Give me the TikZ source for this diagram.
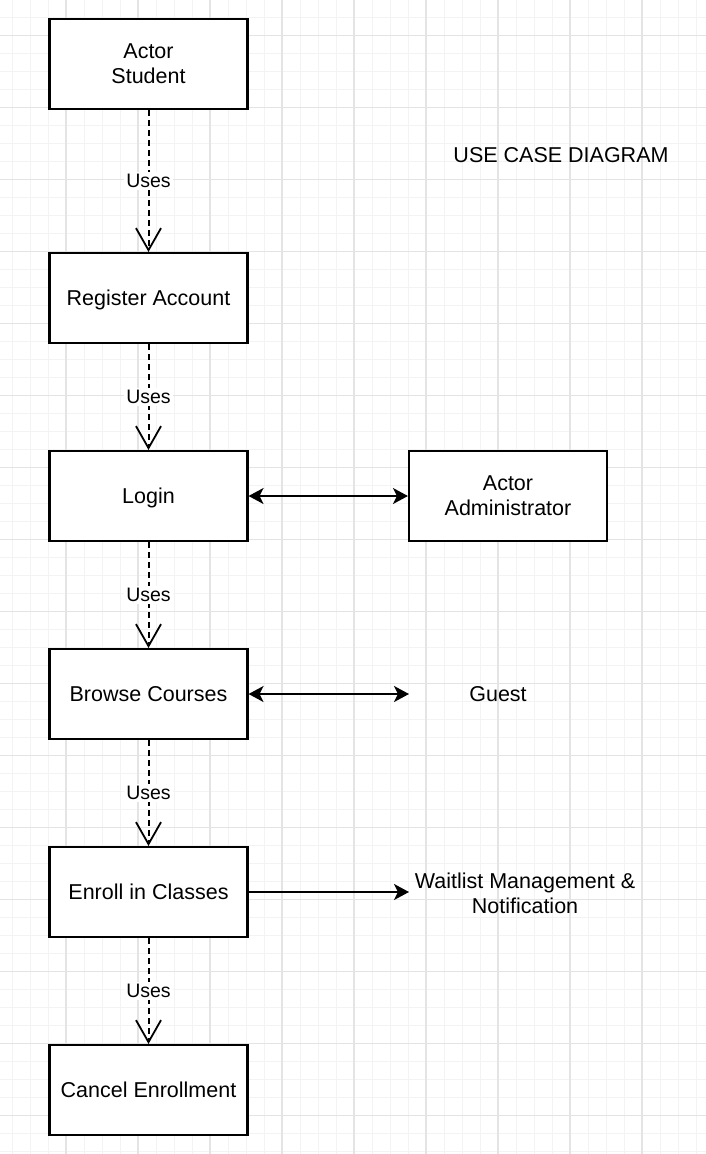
\documentclass[tikz,border=0pt]{standalone}
\usepackage{fontspec}
\setmainfont{Liberation Sans}
\usetikzlibrary{arrows.meta}
\begin{document}
\begin{tikzpicture}[x=1pt,y=-1pt,
  every node/.style={font=\fontsize{21.5}{25}\selectfont},
  box/.style={draw=black,line width=2.1pt,fill=white,minimum width=198pt,minimum height=90pt,align=center,inner sep=2pt,text depth=0pt},
  txt/.style={align=center,inner sep=1pt},
  uses/.style={draw=black,line width=2pt,dash pattern=on 6pt off 4pt,-{Straight Barb[length=22pt,width=25pt,line width=1.8pt]}},
  uselbl/.style={fill=white,inner sep=2pt,font=\fontsize{19.5}{22}\selectfont},
  dbl/.style={draw=black,line width=2pt,{Stealth[length=15pt,width=16pt,inset=4pt]}-{Stealth[length=15pt,width=16pt,inset=4pt]}},
  sgl/.style={draw=black,line width=2pt,-{Stealth[length=15pt,width=16pt,inset=4pt]}},
  minorgrid/.style={draw={rgb,255:red,243;green,243;blue,243},line width=1pt},
  majorgrid/.style={draw={rgb,255:red,228;green,228;blue,228},line width=1.2pt}]
\useasboundingbox[fill=white] (0,0) rectangle (706,1154);
% grid
\foreach \i in {0,...,38} {\draw[minorgrid] (12+18*\i,0) -- (12+18*\i,1154);}
\foreach \i in {0,...,63} {\draw[minorgrid] (0,17.7+18*\i) -- (706,17.7+18*\i);}
\foreach \i in {0,...,9} {\draw[majorgrid] (66+72*\i,0) -- (66+72*\i,1154);}
\foreach \i in {0,...,15} {\draw[majorgrid] (0,35.7+72*\i) -- (706,35.7+72*\i);}
% nodes
\node[box] (student) at (148.5,64) {Actor\\Student};
\node[box] (register) at (148.5,298) {Register Account};
\node[box] (login) at (148.5,496) {Login};
\node[box] (browse) at (148.5,694) {Browse Courses};
\node[box] (enroll) at (148.5,892) {Enroll in Classes};
\node[box] (cancel) at (148.5,1090) {Cancel Enrollment};
\node[box] (admin) at (508,496) {Actor\\Administrator};
\node[txt] (guest) at (498,694) {Guest};
\node[txt] (waitlist) at (525,893) {Waitlist Management \&\\Notification};
\node[txt] (title) at (561,155) {USE CASE DIAGRAM};
\coordinate (gend) at (409,694);
\coordinate (wend) at (409,892);
% connectors
\draw[uses] (student.south) -- node[uselbl] {Uses} (register.north);
\draw[uses] (register.south) -- node[uselbl] {Uses} (login.north);
\draw[uses] (login.south) -- node[uselbl] {Uses} (browse.north);
\draw[uses] (browse.south) -- node[uselbl] {Uses} (enroll.north);
\draw[uses] (enroll.south) -- node[uselbl] {Uses} (cancel.north);
\draw[dbl] (login.east) -- (admin.west);
\draw[dbl] (browse.east) -- (gend);
\draw[sgl] (enroll.east) -- (wend);
\end{tikzpicture}
\end{document}
